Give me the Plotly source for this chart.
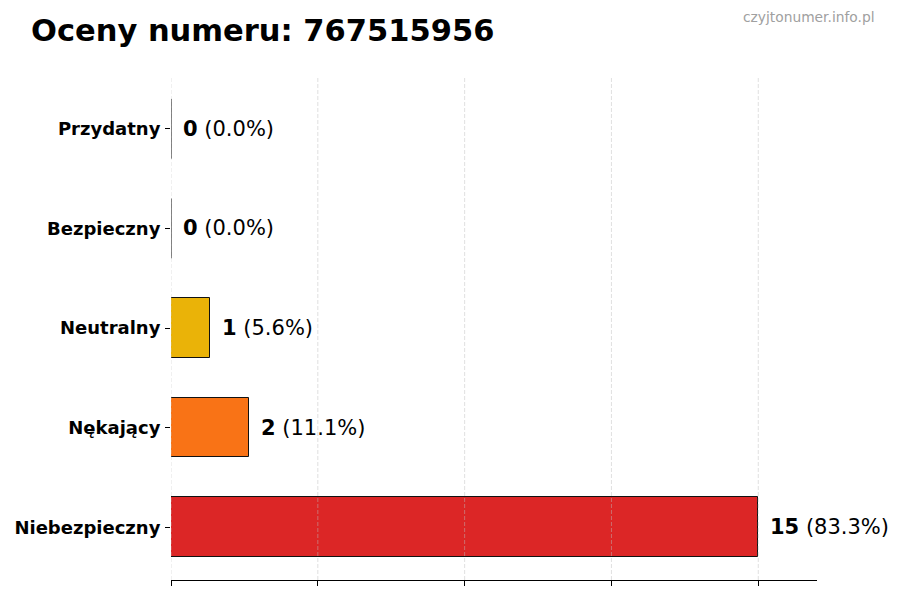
import plotly.graph_objects as go

categories = ["Niebezpieczny", "Nękający", "Neutralny", "Bezpieczny", "Przydatny"]
counts = [15, 2, 1, 0, 0]
percents = [83.3, 11.1, 5.6, 0.0, 0.0]
colors = ["#dc2626", "#f97316", "#eab308", "#22c55e", "#16a34a"]
x_ticks = [0, 3.75, 7.5, 11.25, 15]
title_text = "Oceny numeru: 767515956"
watermark = "czyjtonumer.info.pl"

FONT = "DejaVu Sans"
BAR_W = 0.6

fig = go.Figure()
fig.add_trace(go.Bar(
    y=list(range(len(categories))),
    x=counts,
    orientation="h",
    width=BAR_W,
    marker=dict(color=colors, line=dict(color="#111111", width=1)),
    hoverinfo="skip",
))

shapes = []
# grid lines drawn above the bars (as in the reference)
for t in x_ticks:
    shapes.append(dict(type="line", xref="x", yref="paper", x0=t, x1=t, y0=0, y1=1,
                       line=dict(color="rgba(190,190,190,0.6)", width=0.8, dash="4px,2px"),
                       layer="above"))
# zero-valued bars: matplotlib still draws their edge
for i, v in enumerate(counts):
    if v == 0:
        shapes.append(dict(type="line", xref="x", yref="y", x0=v, x1=v,
                           y0=i - BAR_W / 2, y1=i + BAR_W / 2,
                           line=dict(color="#111111", width=1), layer="above"))

annotations = []
for i, (c, p) in enumerate(zip(counts, percents)):
    annotations.append(dict(
        x=c, y=i, xref="x", yref="y", xanchor="left", yanchor="middle",
        xshift=10, showarrow=False,
        text=f"<b>{c}</b> ({p:.1f}%)",
        font=dict(family=FONT, size=21, color="black"),
    ))

fig.update_layout(
    width=900, height=600,
    margin=dict(l=171, r=83, t=76, b=20, autoexpand=False),
    paper_bgcolor="white", plot_bgcolor="white",
    showlegend=False,
    bargap=0,
    annotations=annotations,
    shapes=shapes,
    font=dict(family=FONT, color="black"),
)

fig.add_annotation(text=f"<b>{title_text}</b>", xref="paper", yref="paper",
                   x=-142 / 646, y=1 + 46 / 504, xanchor="left", yanchor="middle",
                   showarrow=False, font=dict(family=FONT, size=30.5, color="black"))
fig.add_annotation(text=watermark, xref="paper", yref="paper",
                   x=1 + 60 / 646, y=1 + 59 / 504, xanchor="right", yanchor="middle",
                   showarrow=False, font=dict(family=FONT, size=13.8, color="#a0a0a0"))

fig.update_xaxes(range=[0, 16.5], tickvals=x_ticks, showticklabels=False,
                 ticks="outside", ticklen=5, tickcolor="black", tickwidth=1,
                 showgrid=False, zeroline=False, automargin=False,
                 showline=True, linecolor="black", linewidth=1)
fig.update_yaxes(range=[-0.53, 4.53], tickvals=list(range(len(categories))),
                 ticktext=[f"<b>{c}</b>" for c in categories],
                 tickfont=dict(family=FONT, size=18, color="black"),
                 ticks="outside", ticklen=5, tickcolor="black", tickwidth=1,
                 ticklabelstandoff=1, automargin=False,
                 showgrid=False, zeroline=False, showline=False)

fig.write_html("out.html", config={"displayModeBar": False},
               post_script="document.body.style.margin='0';")
